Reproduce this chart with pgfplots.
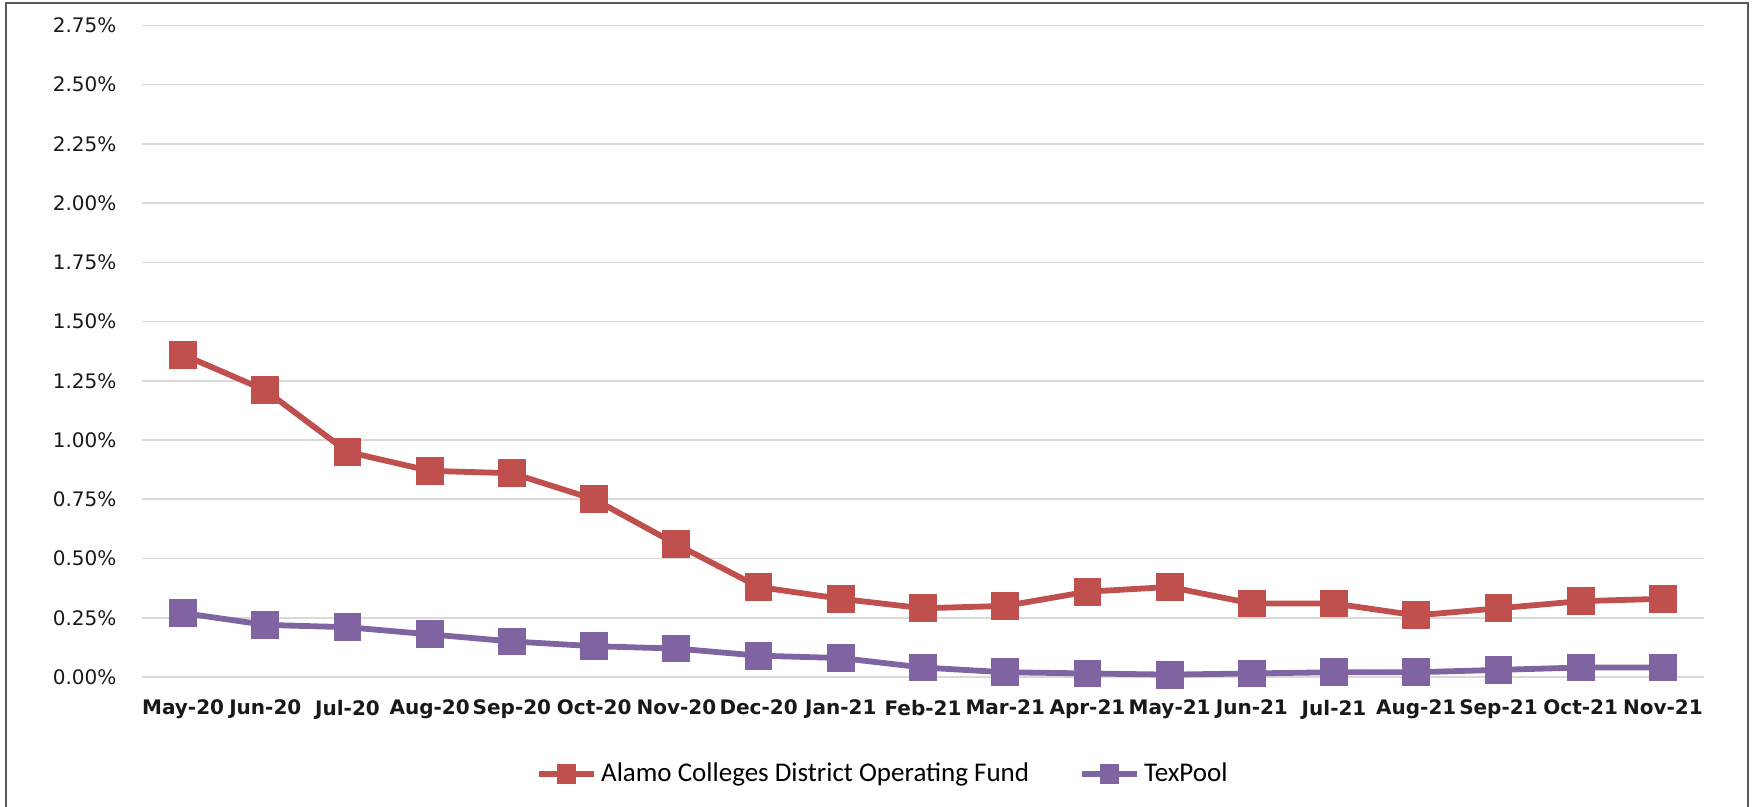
\documentclass[border=0pt]{standalone}
\usepackage{fontspec}
\setmainfont{DejaVu Sans}
\newfontfamily\calibri{Carlito}
\usepackage{pgfplots}
\pgfplotsset{compat=1.18}
\definecolor{fundred}{HTML}{C0504D}
\definecolor{poolpurple}{HTML}{8064A2}
\definecolor{gridgray}{HTML}{D9D9D9}
\begin{document}
\begin{tikzpicture}
\path[use as bounding box] (0,0) rectangle (877pt,403.5pt);
\draw[black!65, line width=1pt] (2.8pt,0) -- (2.8pt,402pt) -- (874pt,402pt) -- (874pt,0);
\begin{axis}[
  at={(71pt,65pt)}, anchor=south west,
  scale only axis, width=781pt, height=325.8pt,
  xmin=-0.5, xmax=18.5, ymin=0, ymax=2.75,
  xtick={0,...,18},
  xticklabels={May-20,Jun-20,Jul-20,Aug-20,Sep-20,Oct-20,Nov-20,Dec-20,Jan-21,Feb-21,Mar-21,Apr-21,May-21,Jun-21,Jul-21,Aug-21,Sep-21,Oct-21,Nov-21},
  ytick={0,0.25,0.5,0.75,1,1.25,1.5,1.75,2,2.25,2.5,2.75},
  yticklabel={\pgfmathprintnumber[fixed,fixed zerofill,precision=2]{\tick}\%},
  /pgf/number format/assume math mode=true,
  major tick length=0pt,
  axis line style={draw=none},
  ymajorgrids, grid style={gridgray, line width=0.8pt},
  yticklabel style={font=\fontsize{10pt}{12pt}\selectfont, text=black!90, xshift=-9.3pt},
  xticklabel style={font=\fontsize{10pt}{12pt}\selectfont\bfseries, text=black!90, yshift=-8pt},
  clip=false,
  legend columns=2,
  legend style={at={(0.475,-0.149)}, anchor=center, draw=none, fill=none,
    font=\calibri\fontsize{13.5pt}{15pt}\selectfont,
    /tikz/every even column/.append style={column sep=23pt},
    inner sep=0pt},
  legend image code/.code={
    \draw[#1, mark=none] (0pt,0pt) -- (27.5pt,0pt);
    \draw[#1, mark size=3.4pt] plot coordinates {(13.75pt,0pt)};
  },
]
\addplot[fundred, line width=2.9pt, mark=square*, mark size=5.5pt, mark options={solid}] coordinates {
  (0,1.36) (1,1.21) (2,0.95) (3,0.87) (4,0.86) (5,0.75) (6,0.56) (7,0.38) (8,0.33) (9,0.29)
  (10,0.30) (11,0.36) (12,0.38) (13,0.31) (14,0.31) (15,0.26) (16,0.29) (17,0.32) (18,0.33)
};
\addlegendentry{Alamo Colleges District Operating Fund}
\addplot[poolpurple, line width=2.9pt, mark=square*, mark size=5.5pt, mark options={solid}] coordinates {
  (0,0.27) (1,0.22) (2,0.21) (3,0.18) (4,0.15) (5,0.13) (6,0.12) (7,0.09) (8,0.08) (9,0.04)
  (10,0.02) (11,0.015) (12,0.01) (13,0.015) (14,0.02) (15,0.02) (16,0.03) (17,0.04) (18,0.04)
};
\addlegendentry{TexPool}
\end{axis}
\end{tikzpicture}
\end{document}
